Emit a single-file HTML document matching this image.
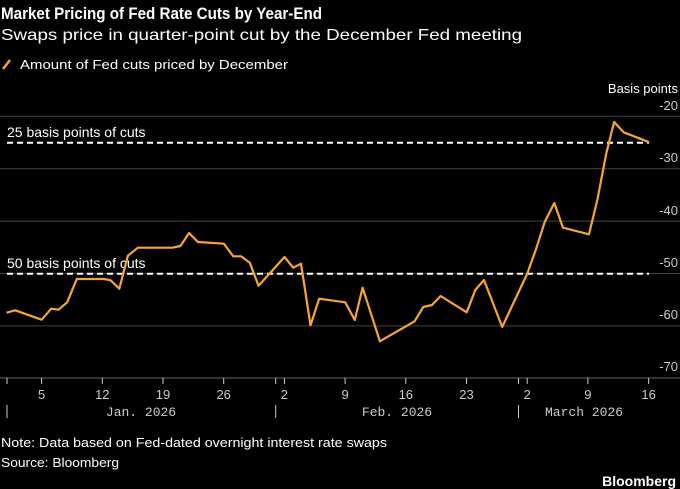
<!DOCTYPE html>
<html><head><meta charset="utf-8"><style>
html,body{margin:0;padding:0;background:#000;}
svg{display:block;font-family:"Liberation Sans",sans-serif;}
</style></head><body>
<svg width="680" height="489" viewBox="0 0 680 489">
<rect width="680" height="489" fill="#000"/>
<text x="1" y="19" fill="#fff" font-weight="bold" font-size="17" textLength="321" lengthAdjust="spacingAndGlyphs">Market Pricing of Fed Rate Cuts by Year-End</text>
<text x="1" y="40" fill="#fff" font-size="16" textLength="521" lengthAdjust="spacingAndGlyphs">Swaps price in quarter-point cut by the December Fed meeting</text>
<line x1="3" y1="69" x2="10" y2="60" stroke="#f7a731" stroke-width="2.5"/>
<text x="20" y="69" fill="#fff" font-size="13" textLength="268" lengthAdjust="spacingAndGlyphs">Amount of Fed cuts priced by December</text>
<text x="678" y="93" fill="#fff" font-size="13" text-anchor="end">Basis points</text>
<g stroke="#444" stroke-width="1">
<line x1="0" y1="116.3" x2="680" y2="116.3"/>
<line x1="0" y1="168.7" x2="680" y2="168.7"/>
<line x1="0" y1="221.1" x2="680" y2="221.1"/>
<line x1="0" y1="273.5" x2="680" y2="273.5"/>
<line x1="0" y1="325.9" x2="680" y2="325.9"/>
</g>
<line x1="0" y1="378" x2="680" y2="378" stroke="#666" stroke-width="1"/>
<g fill="#ccc" font-size="13" text-anchor="end">
<text x="678" y="110">-20</text>
<text x="678" y="162">-30</text>
<text x="678" y="215">-40</text>
<text x="678" y="267">-50</text>
<text x="678" y="319">-60</text>
<text x="678" y="371">-70</text>
</g>
<g stroke="#fff" stroke-width="2" stroke-dasharray="6,4">
<line x1="7" y1="142.7" x2="649" y2="142.7"/>
<line x1="7" y1="273.7" x2="649" y2="273.7"/>
</g>
<text x="7" y="137" fill="#fff" font-size="14">25 basis points of cuts</text>
<text x="7" y="268" fill="#fff" font-size="14">50 basis points of cuts</text>
<polyline fill="none" stroke="#f7a731" stroke-width="2.2" stroke-linejoin="round" points="6.5,312.7 15.2,310.3 41.6,319.7 51.2,308.7 58.5,309.7 67.2,302.3 76.8,279 104.1,279 110.6,280.3 119.3,288.7 127.9,255.7 137.9,247.7 172.6,247.7 180.4,246 189.1,233 197.8,242 223.8,243.7 233.3,256.3 241.1,256.3 249.8,262.7 258.5,285.7 284.5,257 293.2,267.7 301,263.7 310.5,325.3 319.2,298.7 345.2,302.3 354.8,320 362.6,287.7 379.9,341.3 414.6,321.3 423.3,307 432,305 440.6,296 466.7,312.3 475.3,290 484,280 502.2,327 527.4,273.3 536,249.3 544.7,222 554.3,203 563,227.7 589,234.3 597.6,198.7 606.3,153.3 614.1,122 623.7,132.3 640.1,138.7 649.2,142.3"/>
<g stroke="#ccc" stroke-width="1">
<line x1="7" y1="378" x2="7" y2="384"/>
<line x1="41.6" y1="378" x2="41.6" y2="384"/>
<line x1="102.3" y1="378" x2="102.3" y2="384"/>
<line x1="163" y1="378" x2="163" y2="384"/>
<line x1="223.7" y1="378" x2="223.7" y2="384"/>
<line x1="275.7" y1="378" x2="275.7" y2="384"/>
<line x1="284.4" y1="378" x2="284.4" y2="384"/>
<line x1="345.1" y1="378" x2="345.1" y2="384"/>
<line x1="405.8" y1="378" x2="405.8" y2="384"/>
<line x1="466.5" y1="378" x2="466.5" y2="384"/>
<line x1="518.5" y1="378" x2="518.5" y2="384"/>
<line x1="527.2" y1="378" x2="527.2" y2="384"/>
<line x1="587.9" y1="378" x2="587.9" y2="384"/>
<line x1="648.6" y1="378" x2="648.6" y2="384"/>
<line x1="7" y1="405" x2="7" y2="418"/>
<line x1="275.7" y1="405" x2="275.7" y2="418"/>
<line x1="518.5" y1="405" x2="518.5" y2="418"/>
</g>
<g fill="#ccc" font-size="13" text-anchor="middle">
<text x="41.6" y="399">5</text>
<text x="102.3" y="399">12</text>
<text x="163" y="399">19</text>
<text x="223.7" y="399">26</text>
<text x="284.4" y="399">2</text>
<text x="345.1" y="399">9</text>
<text x="405.8" y="399">16</text>
<text x="466.5" y="399">23</text>
<text x="527.2" y="399">2</text>
<text x="587.9" y="399">9</text>
<text x="648.6" y="399">16</text>
</g>
<g fill="#ccc" font-size="13" text-anchor="middle" font-family="Liberation Mono, monospace">
<text x="141" y="416">Jan. 2026</text>
<text x="397" y="416">Feb. 2026</text>
<text x="584" y="416">March 2026</text>
</g>
<text x="1" y="447" fill="#fff" font-size="13" textLength="386" lengthAdjust="spacingAndGlyphs">Note: Data based on Fed-dated overnight interest rate swaps</text>
<text x="1" y="467" fill="#fff" font-size="13" textLength="118" lengthAdjust="spacingAndGlyphs">Source: Bloomberg</text>
<text x="676" y="486" fill="#fff" font-size="14" font-weight="bold" text-anchor="end">Bloomberg</text>
</svg>
</body></html>
